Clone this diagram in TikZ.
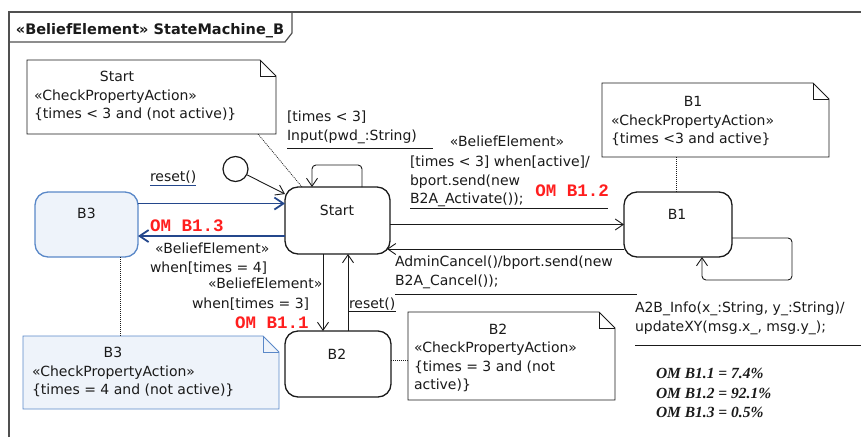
\documentclass[tikz,border=0pt]{standalone}
\usepackage{fontspec}
\setmainfont{DejaVu Sans}
\newfontfamily\omfont{Liberation Mono}
\newfontfamily\legfont{Liberation Serif}
\usetikzlibrary{arrows.meta,calc}

\definecolor{inkc}{HTML}{1A1A1A}
\definecolor{framec}{HTML}{505050}
\definecolor{navyc}{HTML}{24478C}
\definecolor{omred}{HTML}{FF1E1E}
\definecolor{paleblue}{HTML}{EEF3FA}
\definecolor{edgeblue}{HTML}{5A88C8}

% UML note outline with a folded top-right corner, drawn over an empty node
\newcommand\umlnote[3]{%
  \path[draw=#2, fill=#3, notepen]
    (#1.south west) -- (#1.north west) -- ([xshift=-16pt]#1.north east)
    -- ([yshift=-16pt]#1.north east) -- (#1.south east) -- cycle;
  \draw[draw=#2, notepen] ([xshift=-16pt]#1.north east) |- ([yshift=-16pt]#1.north east);
}

\begin{document}
\begin{tikzpicture}[x=1pt, y=-1pt,
  txt/.style={inner sep=0pt, outer sep=0pt, font=\fontsize{14}{18.5}\selectfont, text=inkc},
  omlbl/.style={inner sep=0pt, outer sep=0pt, font=\omfont\bfseries\fontsize{17.5}{20}\selectfont, text=omred},
  leg/.style={inner sep=0pt, outer sep=0pt, font=\legfont\bfseries\itshape\fontsize{15.5}{20}\selectfont, text=inkc},
  notepen/.style={line width=0.9pt},
  notebox/.style={draw=none, inner sep=0pt, outer sep=0pt},
  statebox/.style={draw=inkc, fill=white, line width=1.3pt, rounded corners=13pt,
                   inner sep=0pt, outer sep=0pt},
  arr/.style={draw=inkc, line width=0.9pt, -{Straight Barb[length=8pt, width=11pt]}},
  barr/.style={draw=navyc, line width=1.8pt, -{Straight Barb[length=9pt, width=12pt]}},
  dotl/.style={draw=inkc, line width=0.7pt, dash pattern=on 1pt off 1pt},
  uline/.style={draw=inkc, line width=0.9pt},
]
\useasboundingbox (0,0) rectangle (861,437);

% frame and its name tab
\draw[framec, line width=1.2pt] (9,437) -- (9,12) -- (861,12);
\draw[framec, line width=1.2pt] (9,42) -- (285,42) -- (292,33) -- (292,12);
\node[txt, anchor=base west, font=\bfseries\fontsize{14.5}{18}\selectfont] (ttl) at (16,34)
  {«BeliefElement» StateMachine\_B};

% notes
\node[notebox, minimum width=249pt, minimum height=74pt] (snote) at (151.5,97) {};
\umlnote{snote}{inkc}{white}
\node[notebox, minimum width=227pt, minimum height=74pt] (b1note) at (715.5,120) {};
\umlnote{b1note}{inkc}{white}
\node[notebox, minimum width=207pt, minimum height=88pt] (b2note) at (511.5,356) {};
\umlnote{b2note}{inkc}{white}
\node[notebox, minimum width=256pt, minimum height=73pt] (b3note) at (151,372.5) {};
\umlnote{b3note}{edgeblue}{paleblue}

\node[txt, anchor=base] (sn1) at (117,81.5) {Start};
\node[txt, anchor=base west] (sn2) at (34,100) {«CheckPropertyAction»};
\node[txt, anchor=base west] (sn3) at (34,118.5) {\{times < 3 and (not active)\}};

\node[txt, anchor=base] (bn1) at (693,106.5) {B1};
\node[txt, anchor=base west] (bn2) at (611,125) {«CheckPropertyAction»};
\node[txt, anchor=base west] (bn3) at (611,143.5) {\{times <3 and active\}};

\node[txt, anchor=base] (cn1) at (498,334) {B2};
\node[txt, anchor=base west] (cn2) at (414,352.5) {«CheckPropertyAction»};
\node[txt, anchor=base west] (cn3) at (414,371) {\{times = 3 and (not};
\node[txt, anchor=base west] (cn4) at (414,389.5) {active)\}};

\node[txt, anchor=base] (dn1) at (113,357.5) {B3};
\node[txt, anchor=base west] (dn2) at (32,376) {«CheckPropertyAction»};
\node[txt, anchor=base west] (dn3) at (32,394.5) {\{times = 4 and (not active)\}};

% states
\node[statebox, minimum width=105pt, minimum height=67pt] (start) at (337.5,220.5) {};
\node[statebox, draw=edgeblue, fill=paleblue, minimum width=103pt, minimum height=65pt] (b3) at (86.5,224.5) {};
\node[statebox, minimum width=108pt, minimum height=65pt] (b1) at (678,224.5) {};
\node[statebox, minimum width=106pt, minimum height=66pt] (b2) at (338,364) {};

\node[txt, anchor=base] (startlbl) at (337,215) {Start};
\node[txt, anchor=base] (b3lbl) at (86.5,218) {B3};
\node[txt, anchor=base] (b1lbl) at (677,219) {B1};
\node[txt, anchor=base] (b2lbl) at (337,359) {B2};

% initial pseudostate
\node[draw=inkc, fill=white, circle, line width=1.2pt, minimum size=25pt, inner sep=0pt] (init) at (235.5,169) {};

% note anchors
\draw[dotl] ([xshift=-18pt]snote.south east) -- ([xshift=-35.5pt]start.north);
\draw[dotl] ([xshift=-2pt]b1.north |- b1note.south) -- ([xshift=-2pt]b1.north);
\draw[dotl] ([yshift=4pt]b2.east) -- ([yshift=4pt]b2.east -| b2note.west);
\draw[dotl] ([xshift=33.5pt]b3.south) -- ([xshift=33.5pt]b3.south |- b3note.north);

% transitions
\draw[arr] (init) -- (start);
\draw[arr, rounded corners=4pt] ([xshift=24.5pt]start.north) -- ++(0,-22) -| ([xshift=-25.5pt]start.north);
\draw[arr] (start.east |- b1.west) -- (b1.west);
\draw[arr] ($(b1.west)+(0,24.5)$) -- ($(start.east)+(-3,28.5)$);
\draw[arr] ([xshift=-14.5pt]start.south) -- ([xshift=-14.5pt]start.south |- b2.north);
\draw[arr] ([xshift=10pt]b2.north) -- ([xshift=10pt]b2.north |- start.south);
\draw[arr, rounded corners=4pt] ([yshift=-13.5pt]b1.east) -- ++(60,0) -- ++(0,42) -| ([xshift=24pt]b1.south);
\draw[barr] ([yshift=21pt]b3.east) -- ([yshift=21pt]b3.east -| start.west);
\draw[barr] ([yshift=-15.5pt]start.west) -- ([yshift=-15.5pt]start.west -| b3.east);

% transition labels
\node[txt, anchor=base west] (t1a) at (287,121.5) {[times < 3]};
\node[txt, anchor=base west] (t1b) at (287,140) {Input(pwd\_:String)};
\draw[uline] (287,148) -- (433,148);

\node[txt, anchor=base] (t2a) at (507,146.5) {«BeliefElement»};
\node[txt, anchor=base west] (t2b) at (410,166.5) {[times < 3] when[active]/};
\node[txt, anchor=base west] (t2c) at (410,185) {bport.send(new};
\node[txt, anchor=base west] (t2d) at (410,203.5) {B2A\_Activate());};
\draw[uline] (410,208) -- (608,208);
\node[omlbl, anchor=base] (om2) at (572,196.5) {OM B1.2};

\node[txt, anchor=base west] (t3a) at (395,266.5) {AdminCancel()/bport.send(new};
\node[txt, anchor=base west] (t3b) at (395,285) {B2A\_Cancel());};
\draw[uline] (395,294) -- (637,294);

\node[txt, anchor=base west] (t4) at (150,181) {reset()};
\draw[draw=navyc, line width=1.5pt] (150,185.5) -- (196,185.5);

\node[txt, anchor=base west] (t5) at (349,308) {reset()};
\draw[uline] (348,311.5) -- (396,311.5);

\node[omlbl, anchor=base west] (om3) at (150,231.5) {OM B1.3};
\node[txt, anchor=base west] (t6a) at (155,253) {«BeliefElement»};
\node[txt, anchor=base west] (t6b) at (150,272) {when[times = 4]};

\node[txt, anchor=base west] (t7a) at (208,288.5) {«BeliefElement»};
\node[txt, anchor=base west] (t7b) at (192,308) {when[times = 3]};
\node[omlbl, anchor=base west] (om1) at (235,328) {OM B1.1};

\node[txt, anchor=base west] (t8a) at (635,312) {A2B\_Info(x\_:String, y\_:String)/};
\node[txt, anchor=base west] (t8b) at (635,331) {updateXY(msg.x\_, msg.y\_);};
\draw[uline] (635,345) -- (861,345);

% legend
\node[leg, anchor=base west] (lg1) at (656,378) {OM B1.1 = 7.4\%};
\node[leg, anchor=base west] (lg2) at (656,398) {OM B1.2 = 92.1\%};
\node[leg, anchor=base west] (lg3) at (656,417) {OM B1.3 = 0.5\%};
\end{tikzpicture}
\end{document}
